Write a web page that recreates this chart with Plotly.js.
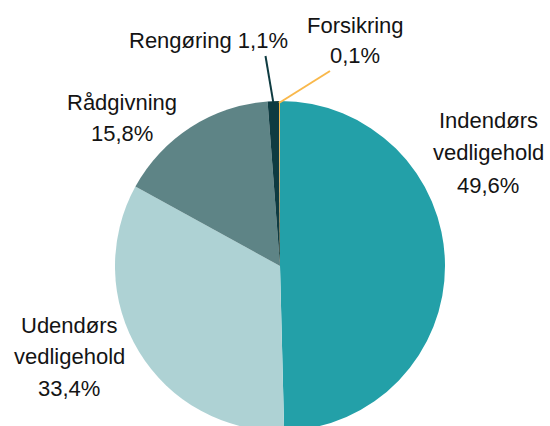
<!DOCTYPE html>
<html>
<head>
<meta charset="utf-8">
<script src="https://cdn.plot.ly/plotly-3.0.1.min.js"></script>
<style>
html,body{margin:0;padding:0;overflow:hidden;background:#fff;}
#chart{width:550px;height:436px;}
</style>
</head>
<body>
<div id="chart"></div>
<script>
// Data
const categories = ["Indendørs vedligehold", "Udendørs vedligehold", "Rådgivning", "Rengøring", "Forsikring"];
const labelLines = [["Indendørs", "vedligehold"], ["Udendørs", "vedligehold"], ["Rådgivning"], ["Rengøring"], ["Forsikring"]];
const shares = [49.6, 33.4, 15.8, 1.1, 0.1];
const sliceColors = ["#23A0A8", "#AED2D4", "#5E8486", "#0E3B41", "#F9B84B"];

// Layout geometry (pixels)
const W = 550, H = 436;
const M = {l: 115, r: 105, t: 101, b: 5};
const D = 330;
const px2x = px => (px - M.l) / D;
const py2y = py => (H - M.b - py) / D;

// label placement: center x, first baseline, line step, percent inline?
const labelPos = [
  {x: 488, y: 130, step: 32.5, inline: false},
  {x: 69, y: 335, step: 31.5, inline: false},
  {x: 122, y: 112, step: 31, inline: false},
  {x: 208, y: 50, step: 30, inline: true},
  {x: 355, y: 35, step: 30, inline: false}
];
const fmt = v => v.toFixed(1).replace('.', ',') + '%';
const FS = 22;

const annotations = [];
categories.forEach((c, i) => {
  const p = labelPos[i];
  const lines = p.inline ? [labelLines[i].join(' ') + ' ' + fmt(shares[i])] : labelLines[i].concat([fmt(shares[i])]);
  lines.forEach((t, j) => {
    annotations.push({
      text: t, xref: 'paper', yref: 'paper',
      x: px2x(p.x), y: py2y(p.y + j * p.step - 0.45 * FS),
      xanchor: 'center', yanchor: 'middle', showarrow: false, align: 'center',
      font: {family: 'Liberation Sans, Arial, sans-serif', size: FS, color: '#141414'}
    });
  });
});

// leader lines for small slices
const cx = M.l + D / 2, cy = M.t + D / 2, R = D / 2;
function midAngle(i) {
  let cum = 0; for (let k = 0; k < i; k++) cum += shares[k];
  const total = shares.reduce((a, b) => a + b, 0);
  return (cum + shares[i] / 2) / total * 2 * Math.PI;
}
function edge(i) {
  const a = midAngle(i);
  return {x: cx + R * Math.sin(a), y: cy - R * Math.cos(a)};
}
const e3 = edge(3), e4 = edge(4);
const shapes = [
  {type: 'line', xref: 'paper', yref: 'paper', x0: px2x(e3.x), y0: py2y(e3.y + 1), x1: px2x(265.5), y1: py2y(56), line: {color: sliceColors[3], width: 2}},
  {type: 'line', xref: 'paper', yref: 'paper', x0: px2x(e4.x - 0.5), y0: py2y(e4.y + 2), x1: px2x(330), y1: py2y(71), line: {color: sliceColors[4], width: 2}}
];

Plotly.newPlot('chart', [{
  type: 'pie',
  labels: categories,
  values: shares,
  sort: false,
  direction: 'clockwise',
  rotation: 0,
  textinfo: 'none',
  hoverinfo: 'label+percent',
  marker: {colors: sliceColors, line: {width: 0}},
  domain: {x: [0, 1], y: [0, 1]},
  automargin: false
}], {
  width: W, height: H,
  margin: M,
  showlegend: false,
  paper_bgcolor: '#fff',
  annotations: annotations,
  shapes: shapes
}, {staticPlot: true});
</script>
</body>
</html>
